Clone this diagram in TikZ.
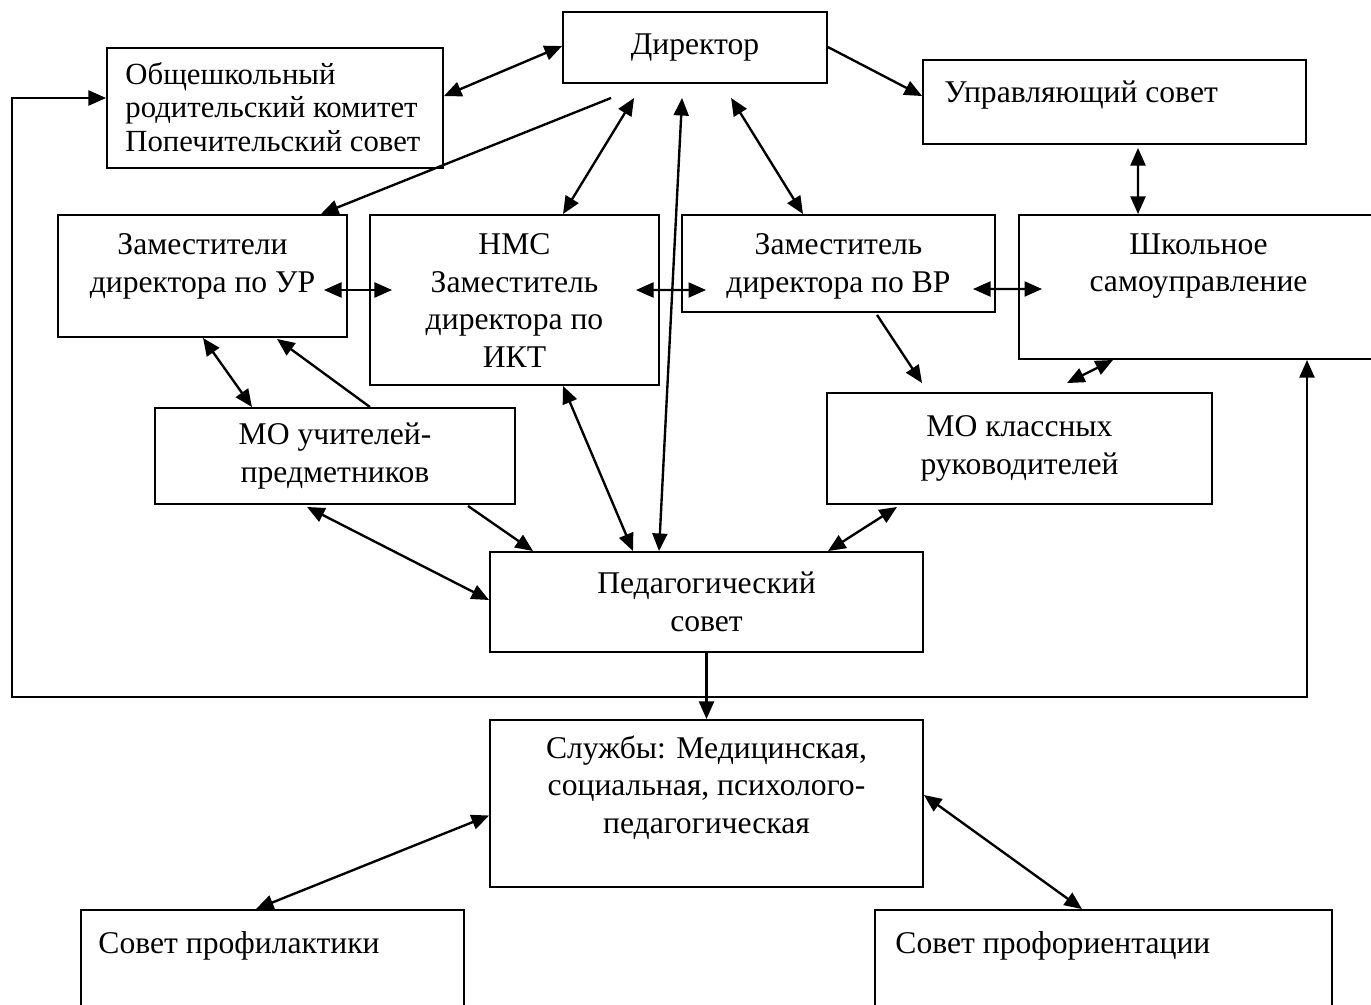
\documentclass[tikz,border=0pt]{standalone}
\usepackage{fontspec}
\setmainfont{Liberation Serif}
\usetikzlibrary{arrows.meta,positioning}

\begin{document}
\begin{tikzpicture}[x=0.02cm,y=-0.02cm,
    >={Triangle[length=10pt,width=8.5pt]},
    blk/.style={draw, line width=1.1pt, inner sep=0pt},
    txt/.style={align=center, inner sep=0pt, font=\fontsize{18}{21.5}\selectfont},
    link/.style={line width=1.35pt}]

  \useasboundingbox (0,0) rectangle (1371,1004);
  \clip (0,0) rectangle (1371,1004);

  % top row
  \node[blk, txt, minimum width=5.28cm, minimum height=1.42cm] (dir) at (695,47.5) {Директор};
  \node[blk, minimum width=6.72cm, minimum height=2.4cm] (parents) at (275,108) {};
  \node[txt, align=left, anchor=north west, font=\fontsize{17.5}{19}\selectfont] (parentsT)
    at ([shift={(19,15)}]parents.north west) {Общешкольный\\родительский комитет\\Попечительский совет};
  \node[blk, minimum width=7.66cm, minimum height=1.68cm] (upr) at (1114.5,102) {};
  \node[txt, anchor=north west] (uprT) at ([shift={(22,21)}]upr.north west) {Управляющий совет};

  % deputies
  \node[blk, minimum width=5.78cm, minimum height=2.44cm] (zamUR) at (202.5,276) {};
  \node[txt, anchor=north] (zamURT) at ([shift={(0,19)}]zamUR.north) {Заместители\\директора по УР};
  \node[blk, minimum width=5.78cm, minimum height=3.4cm] (nms) at (514.5,300) {};
  \node[txt, anchor=north] (nmsT) at ([shift={(0,19)}]nms.north) {НМС\\Заместитель\\директора по\\ИКТ};
  \node[blk, minimum width=6.26cm, minimum height=1.94cm] (zamVR) at (838.5,263.5) {};
  \node[txt, anchor=north] (zamVRT) at ([shift={(0,19)}]zamVR.north) {Заместитель\\директора по ВР};
  \node[blk, minimum width=7.18cm, minimum height=2.88cm] (self) at (1198.5,287) {};
  \node[txt, anchor=north] (selfT) at ([shift={(0,19)}]self.north) {Школьное\\самоуправление};

  % method groups and council
  \node[blk, txt, minimum width=7.2cm, minimum height=1.92cm] (moUch) at (335,456) {МО учителей-\\предметников};
  \node[blk, txt, minimum width=7.7cm, minimum height=2.22cm] (moKl) at (1019.5,448.5) {МО классных\\руководителей};
  \node[blk, txt, minimum width=8.66cm, minimum height=2cm] (ped) at (706.5,602) {Педагогический\\совет};

  % services
  \node[blk, minimum width=8.66cm, minimum height=3.34cm] (sl) at (706.5,803.5) {};
  \node[txt, anchor=north] (slT) at ([shift={(0,16)}]sl.north) {Службы: Медицинская,\\социальная, психолого-\\педагогическая};
  \node[blk, minimum width=7.66cm, minimum height=2.6cm] (prof) at (272.5,975) {};
  \node[txt, anchor=north west] (profT) at ([shift={(18,22)}]prof.north west) {Совет профилактики};
  \node[blk, minimum width=9.14cm, minimum height=2.6cm] (orient) at (1103.5,975) {};
  \node[txt, anchor=north west] (orientT) at ([shift={(21,22)}]orient.north west) {Совет профориентации};

  \path[<->, link]
    ([shift={(0,35)}]dir.north west) edge ([shift={(0,49)}]parents.north east)
    ([shift={(72,14)}]dir.south west) edge ([shift={(48.5,0)}]nms.north)
    ([shift={(120,14)}]dir.south west) edge ([shift={(-47.5,0)}]ped.north)
    ([shift={(169,14)}]dir.south west) edge ([shift={(-35.5,0)}]zamVR.north)
    ([shift={(23.5,3)}]upr.south) edge ([shift={(-60.5,0)}]self.north)
    ([shift={(-24,14)}]zamUR.east) edge ([shift={(23,-10)}]nms.west)
    ([shift={(-24,-10)}]nms.east) edge ([shift={(25,26.5)}]zamVR.west)
    ([shift={(-23,25.5)}]zamVR.east) edge ([shift={(24,2)}]self.west)
    ([shift={(0.5,0)}]zamUR.south) edge ([shift={(-83,0)}]moUch.north)
    ([shift={(48.5,0)}]nms.south) edge ([shift={(-73.5,0)}]ped.north)
    ([shift={(47.5,-9)}]moKl.north) edge ([shift={(-85.5,0)}]self.south)
    ([shift={(-28,2)}]moUch.south) edge ([shift={(0,-2)}]ped.west)
    ([shift={(-122.5,2)}]moKl.south) edge ([shift={(121.5,0)}]ped.north)
    ([shift={(0,12)}]sl.west) edge ([shift={(-16.5,0)}]prof.north)
    ([shift={(0,-8.5)}]sl.east) edge ([shift={(-21.5,0)}]orient.north);

  \path[->, link]
    ([shift={(0,36)}]dir.north east) edge ([shift={(0,37)}]upr.north west)
    ([shift={(49,14)}]dir.south west) edge ([shift={(-27,0)}]zamUR.north east)
    ([shift={(35,0)}]moUch.north) edge ([shift={(74.5,1)}]zamUR.south)
    ([shift={(38.5,2)}]zamVR.south) edge ([shift={(-97.5,-9)}]moKl.north)
    ([shift={(133,1)}]moUch.south) edge ([shift={(-173.5,0)}]ped.north)
    (ped) edge (sl);

  % feedback loop round the left side
  \coordinate (loopSW) at (12,697);
  \draw[<->, link] ([shift={(0,-10)}]parents.west) -| (loopSW) -| ([shift={(108.5,0)}]self.south);

\end{tikzpicture}
\end{document}
